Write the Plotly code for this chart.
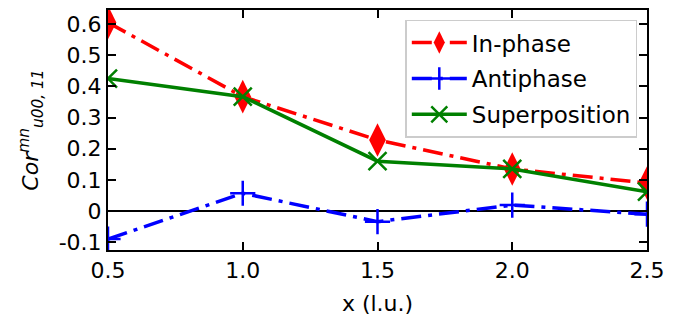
import plotly.graph_objects as go

x = [0.5, 1.0, 1.5, 2.0, 2.5]
in_phase = [0.605, 0.367, 0.228, 0.135, 0.09]
antiphase = [-0.09, 0.057, -0.034, 0.019, -0.01]
superposition = [0.425, 0.367, 0.16, 0.135, 0.062]
x_ticks = [0.5, 1.0, 1.5, 2.0, 2.5]
y_ticks = [-0.1, 0, 0.1, 0.2, 0.3, 0.4, 0.5, 0.6]
y_labels = ["-0.1", "0", "0.1", "0.2", "0.3", "0.4", "0.5", "0.6"]

font = "DejaVu Sans"
fs = 22
dd = "20px,7px,4px,7px"
fig = go.Figure()
fig.add_trace(go.Scatter(x=x, y=in_phase, name="In-phase", mode="lines+markers", legendgroup="a",
                         line=dict(color="red", width=3.5, dash=dd),
                         marker=dict(symbol="diamond-tall", size=24, color="red")))
fig.add_trace(go.Scatter(x=x, y=antiphase, name="Antiphase", mode="lines+markers", legendgroup="b",
                         line=dict(color="blue", width=3.5, dash=dd),
                         marker=dict(symbol="cross-thin", size=18, color="blue",
                                     line=dict(color="blue", width=2.5))))
fig.add_trace(go.Scatter(x=x, y=superposition, name="Superposition", mode="lines+markers", legendgroup="c",
                         line=dict(color="green", width=3.5),
                         marker=dict(symbol="x-thin", size=18, color="green",
                                     line=dict(color="green", width=2.5))))

axis_common = dict(showline=True, linecolor="black", linewidth=2, mirror="ticks",
                   ticks="inside", ticklen=8, tickwidth=2, tickcolor="black",
                   showgrid=False, tickfont=dict(family=font, size=fs, color="black"))
fig.update_xaxes(range=[0.5, 2.5], tickvals=x_ticks, tickformat=".1f",
                 title=dict(text="x (l.u.)", font=dict(family=font, size=fs, color="black"), standoff=13),
                 zeroline=False, **axis_common)
fig.update_yaxes(range=[-0.125, 0.645], tickvals=y_ticks, ticktext=y_labels,
                 title=dict(text="<i>Cor</i><sup><i>mn</i></sup><sub><i>u00, 11</i></sub>",
                            font=dict(family=font, size=fs, color="black"), standoff=14),
                 zeroline=True, zerolinecolor="black", zerolinewidth=1.5, **axis_common)
fig.update_layout(width=689, height=322, margin=dict(l=108, r=42, t=8, b=72),
                  plot_bgcolor="white", paper_bgcolor="white",
                  font=dict(family=font, size=fs, color="black"),
                  legend=dict(x=0.982, y=0.96, xanchor="right", yanchor="top",
                              bgcolor="rgba(255,255,255,0.8)", bordercolor="#cccccc", borderwidth=1.5,
                              font=dict(family=font, size=23), itemwidth=55,
                              traceorder="grouped", tracegroupgap=3))
fig.write_html("out.html")
